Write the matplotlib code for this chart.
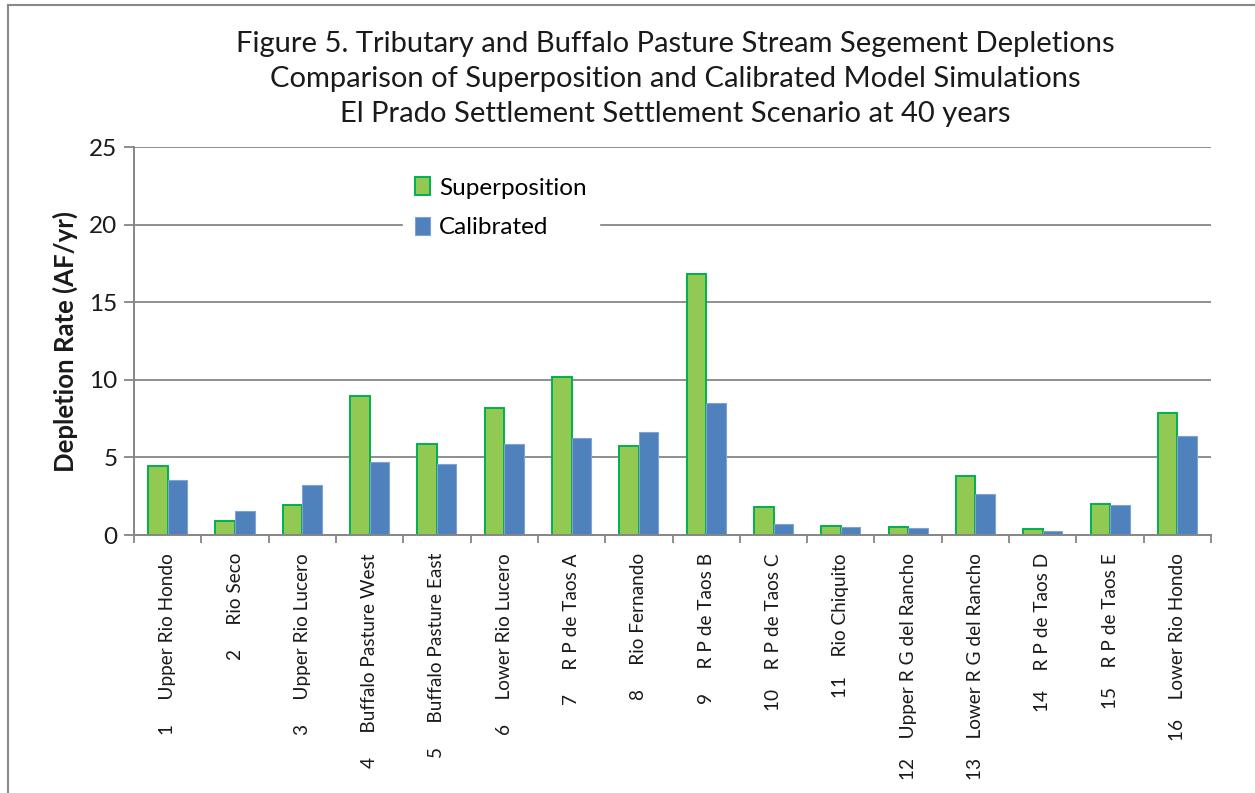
import matplotlib
matplotlib.use("Agg")
import matplotlib.pyplot as plt
import numpy as np

plt.rcParams['font.family'] = ['Lato', 'DejaVu Sans']

# segment labels (number + name, as in the spreadsheet)
segments = ["1     Upper Rio Hondo", "2     Rio Seco", "3     Upper Rio Lucero",
            "4     Buffalo Pasture West", "5     Buffalo Pasture East",
            "6     Lower Rio Lucero", "7     R P de Taos A", "8     Rio Fernando",
            "9     R P de Taos B", "10    R P de Taos C", "11    Rio Chiquito",
            "12    Upper R G del Rancho", "13    Lower R G del Rancho",
            "14    R P de Taos D", "15    R P de Taos E", "16    Lower Rio Hondo"]

superposition = [4.45, 0.92, 1.95, 8.93, 5.86, 8.2, 10.16, 5.76,
                 16.84, 1.8, 0.6, 0.52, 3.78, 0.39, 1.97, 7.86]
calibrated = [3.54, 1.57, 3.24, 4.72, 4.55, 5.84, 6.23, 6.64,
              8.53, 0.73, 0.54, 0.45, 2.64, 0.26, 1.93, 6.36]

title = ("Figure 5. Tributary and Buffalo Pasture Stream Segement Depletions\n"
         "Comparison of Superposition and Calibrated Model Simulations\n"
         "El Prado Settlement Settlement Scenario at 40 years")

fig = plt.figure(figsize=(12.55, 7.93), dpi=100)
ax = fig.add_axes([0.1068, 0.3253, 0.8582, 0.4893])

x = np.arange(len(segments))
w = 0.29
grid_col = '#868686'

ax.set_axisbelow(True)
ax.yaxis.grid(True, color=grid_col, linewidth=1.3)
ax.bar(x - w / 2, superposition, w, color='#92C953', edgecolor='#00B050',
       linewidth=1.4, label='Superposition')
ax.bar(x + w / 2, calibrated, w, color='#4F81BD', edgecolor='#7FA3D4',
       linewidth=0.8, label='Calibrated')

ax.set_xlim(-0.5, len(segments) - 0.5)
ax.set_ylim(0, 25)
ax.set_yticks([0, 5, 10, 15, 20, 25])
ax.tick_params(axis='y', labelsize=17.5, length=7, width=1.3, color=grid_col,
               pad=5, labelcolor='#1a1a1a')
ax.set_xticks(x)
ax.set_xticklabels(segments, rotation=90, fontsize=13.7, va='top', ha='center')
ax.tick_params(axis='x', which='major', length=0, pad=13, labelcolor='#1a1a1a')
ax.set_xticks(np.arange(-0.5, len(segments)), minor=True)
ax.tick_params(axis='x', which='minor', length=6, width=1.3, color=grid_col)

for s in ['top', 'right']:
    ax.spines[s].set_visible(False)
for s in ['left', 'bottom']:
    ax.spines[s].set_color(grid_col)
    ax.spines[s].set_linewidth(1.4)

ax.set_ylabel('Depletion Rate (AF/yr)', fontsize=18.5, fontweight='bold',
              labelpad=8, color='#1a1a1a')

leg = ax.legend(loc='upper left', bbox_to_anchor=(0.238, 0.985), fontsize=17.5,
                frameon=True, fancybox=False, edgecolor='white', framealpha=1,
                handlelength=0.65, handleheight=0.75, handletextpad=0.35,
                labelspacing=0.75, borderpad=0.5)

fig.text(0.538, 1 - 79 / 793, title, ha='center', va='center', fontsize=21,
         linespacing=1.45, color='#1a1a1a')

# chart area frame (cut off at right and bottom in the source)
fig.add_artist(plt.Line2D([8 / 1255, 1], [1 - 5 / 793, 1 - 5 / 793],
                          color='#8a8a8a', linewidth=1.5, transform=fig.transFigure))
fig.add_artist(plt.Line2D([8 / 1255, 8 / 1255], [0, 1 - 5 / 793],
                          color='#8a8a8a', linewidth=1.5, transform=fig.transFigure))

fig.savefig('out.png', dpi=100)
